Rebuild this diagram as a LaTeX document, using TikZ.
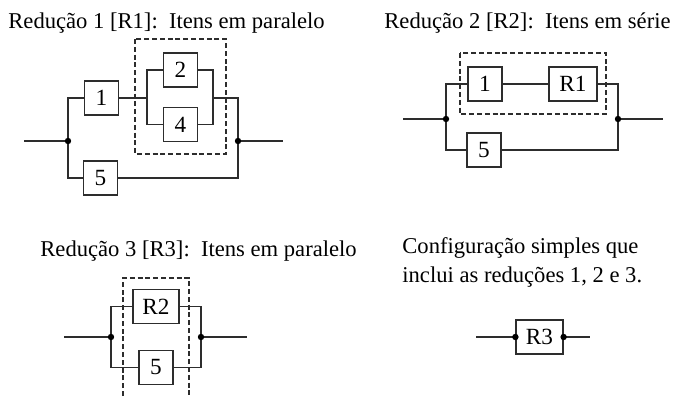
\documentclass[tikz,border=0pt]{standalone}
\usepackage{fontspec}
\setmainfont{Liberation Serif}
\usepackage{xcolor}
\usepackage{tikz}

\definecolor{linegray}{RGB}{45,45,45}

\tikzset{
  wire/.style={draw=linegray, line width=0.6pt},
  blk/.style={draw=linegray, line width=0.6pt, fill=white, minimum width=17pt,
    minimum height=17pt, inner sep=0pt, font=\fontsize{11.6}{13.9}\selectfont},
  dashbox/.style={draw=linegray, line width=0.6pt, dash pattern=on 2.5pt off 1.4pt},
  caption/.style={anchor=base west, inner sep=0pt, font=\fontsize{11.3}{13.6}\selectfont},
  joint/.style={fill=black}
}

\begin{document}
\begin{tikzpicture}[x=0.5pt,y=-0.5pt]

\useasboundingbox (0,0) rectangle (688,396);

% reducao 1
\node[caption] (t1) at (8,28) {Redução 1 [R1]:\enskip Itens em paralelo};

\draw[dashbox] (135,39) rectangle (226,154);

\coordinate (a1in) at (24,141);
\coordinate (a1L) at (68,141);
\coordinate (a1R) at (238,141);
\coordinate (a1out) at (283,141);
\coordinate (p1L) at (147,98);
\coordinate (p1R) at (213,98);

\node[blk] (b1) at (101.5,98) {1};
\node[blk] (b2) at (180.5,70) {2};
\node[blk] (b4) at (180.5,124.5) {4};
\node[blk] (b5) at (100.5,178) {5};

\draw[wire] (a1in) -- (a1L);
\draw[wire] (a1L) |- (b1.west);
\draw[wire] (a1L) |- (b5.west);
\draw[wire] (b1.east) -- (p1L);
\draw[wire] (p1L) |- (b2.west);
\draw[wire] (p1L) |- (b4.west);
\draw[wire] (b2.east) -| (p1R);
\draw[wire] (b4.east) -| (p1R);
\draw[wire] (p1R) -| (a1R);
\draw[wire] (b5.east) -| (a1R);
\draw[wire] (a1R) -- (a1out);
\fill[joint] (a1L) circle (1.6pt);
\fill[joint] (a1R) circle (1.6pt);

% reducao 2
\node[caption] (t2) at (384,28) {Redução 2 [R2]:\enskip Itens em série};

\coordinate (c2in) at (403,119);
\coordinate (c2L) at (446,119);
\coordinate (c2R) at (618,119);
\coordinate (c2out) at (663,119);

\node[blk] (d1) at (485,84) {1};
\node[blk, minimum width=24pt] (dR1) at (573,84) {R1};
\node[blk] (d5) at (484,150) {5};

\draw[wire] (c2in) -- (c2L);
\draw[wire] (c2L) |- (d1.west);
\draw[wire] (d1.east) -- (dR1.west);
\draw[wire] (dR1.east) -| (c2R);
\draw[wire] (c2L) |- (d5.west);
\draw[wire] (d5.east) -| (c2R);
\draw[wire] (c2R) -- (c2out);
\fill[joint] (c2L) circle (1.6pt);
\fill[joint] (c2R) circle (1.6pt);

\draw[dashbox] (460,53) rectangle (606,114);

% reducao 3
\node[caption] (t3) at (40,256) {Redução 3 [R3]:\enskip Itens em paralelo};

\coordinate (e3in) at (64,337);
\coordinate (e3L) at (111,337);
\coordinate (e3R) at (201,337);
\coordinate (e3out) at (247,337);

\node[blk, minimum width=23pt] (fR2) at (156,306.5) {R2};
\node[blk] (f5) at (156,367.5) {5};

\draw[wire] (e3in) -- (e3L);
\draw[wire] (e3L) |- (fR2.west);
\draw[wire] (e3L) |- (f5.west);
\draw[wire] (fR2.east) -| (e3R);
\draw[wire] (f5.east) -| (e3R);
\draw[wire] (e3R) -- (e3out);
\fill[joint] (e3L) circle (1.6pt);
\fill[joint] (e3R) circle (1.6pt);

\draw[dashbox] (123,396) -- (123,278) -- (189,278) -- (189,396);

% configuracao final
\node[caption] (t4a) at (402,253) {Configuração simples que};
\node[caption] (t4b) at (402,282) {inclui as reduções 1, 2 e 3.};

\coordinate (g4in) at (476,337);
\coordinate (g4out) at (590,337);

\node[blk, minimum width=23.5pt] (gR3) at (539.5,337) {R3};

\draw[wire] (g4in) -- (gR3.west);
\draw[wire] (gR3.east) -- (g4out);
\fill[joint] (gR3.west) circle (1.6pt);
\fill[joint] (gR3.east) circle (1.6pt);

\end{tikzpicture}
\end{document}
